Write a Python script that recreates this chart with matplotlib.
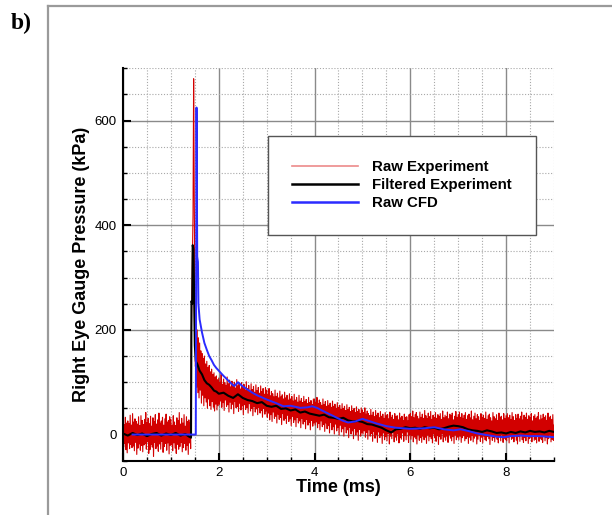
import numpy as np
import matplotlib
matplotlib.use("Agg")
import matplotlib.pyplot as plt
from matplotlib.lines import Line2D
from matplotlib.ticker import MultipleLocator

# ---------------------------------------------------------------
# Raw experiment: one row per millisecond, sampled every 0.0125 ms
# ---------------------------------------------------------------
raw_step = 0.0125
raw_rows = [
    [28, -24, 19, -17, 33, -29, 22, -35, 26, -16, 21, -27, 37, -19, 18, -25, 40, -22, 24, -31,
     30, -15, 25, -38, 20, -26, 34, -18, 17, -30, 36, -21, 27, -33, 19, -20, 29, -17, 42, -28,
     23, -14, 31, -36, 21, -29, 35, -19, 16, -24, 32, -42, 25, -15, 38, -27, 20, -22, 28, -32,
     41, -18, 22, -28, 26, -13, 33, -34, 18, -23, 30, -17, 39, -30, 24, -16, 27, -37, 34, -21],
    [29, -20, 18, -31, 36, -16, 24, -26, 17, -36, 32, -19, 27, -28, 42, -23, 20, -15, 31, -33,
     22, -25, 38, -17, 16, -30, 34, -21, 25, -38, 28, -16, 23, -27,
     180, 260, 340, 420, 680, 460, 300, 130, 210, 90, 200, 80, 185, 70, 175, 85, 160, 60,
     155, 75, 145, 55, 150, 70, 135, 62, 140, 50, 128, 68, 132, 55, 120, 48, 125, 63,
     115, 52, 118, 45, 110, 58, 112, 47, 105, 55],
    [108, 58, 100, 64, 115, 52, 96, 61, 106, 46, 99, 66, 94, 54, 110, 57, 97, 43, 104, 62,
     91, 49, 102, 58, 95, 40, 100, 63, 89, 51, 105, 54, 93, 44, 97, 60, 87, 47, 99, 55,
     91, 38, 96, 57, 85, 48, 101, 52, 88, 41, 94, 59, 83, 45, 97, 50, 86, 36, 92, 54,
     81, 43, 95, 49, 84, 38, 90, 52, 79, 41, 93, 46, 82, 33, 88, 50, 77, 39, 90, 45],
    [85, 33, 77, 41, 88, 28, 74, 38, 82, 25, 78, 43, 72, 31, 85, 35, 73, 22, 79, 39,
     70, 29, 83, 33, 72, 19, 76, 40, 68, 27, 81, 31, 70, 21, 75, 37, 66, 25, 78, 30,
     68, 17, 73, 35, 64, 23, 77, 28, 66, 15, 71, 33, 62, 22, 75, 26, 64, 13, 69, 31,
     61, 20, 73, 25, 63, 11, 67, 29, 59, 18, 71, 23, 61, 9, 65, 27, 57, 16, 68, 22],
    [68, 18, 62, 24, 71, 13, 59, 21, 66, 9, 61, 26, 56, 15, 68, 19, 57, 6, 63, 22,
     54, 11, 65, 17, 56, 3, 60, 23, 52, 9, 64, 15, 54, 1, 58, 20, 50, 7, 61, 13,
     52, -1, 56, 18, 48, 5, 59, 11, 50, -3, 54, 16, 46, 3, 57, 9, 48, -6, 52, 14,
     44, 1, 55, 7, 46, -8, 50, 12, 42, -1, 53, 5, 44, -11, 48, 10, 40, -3, 51, 3],
    [47, 1, 42, 7, 51, -5, 39, 4, 45, -9, 40, 9, 36, -3, 48, 2, 37, -13, 43, 6,
     34, -7, 46, 0, 37, -15, 41, 5, 32, -6, 44, -2, 35, -17, 39, 3, 31, -10, 42, -4,
     36, -12, 38, 2, 30, -18, 43, -3, 33, -8, 37, 4, 29, -14, 40, -5, 34, -11, 36, 1,
     28, -16, 41, -6, 32, -9, 35, 3, 27, -13, 39, -2, 33, -10, 34, 5, 26, -15, 38, -1],
    [40, -9, 34, -2, 45, -14, 32, -5, 38, -8, 42, -18, 35, 0, 30, -11, 43, -6, 33, -15,
     39, -3, 31, -10, 46, -5, 36, -17, 30, -1, 41, -12, 34, -4, 44, -8, 29, -16, 37, 1,
     33, -6, 42, -13, 31, -2, 38, -19, 35, -4, 40, -9, 29, 2, 45, -14, 32, -5, 37, -11,
     34, -3, 43, -15, 30, 0, 39, -7, 36, -12, 41, -4, 28, -17, 35, -1, 44, -10, 33, -5],
    [38, -10, 43, -3, 33, -15, 40, -6, 31, -2, 37, -12, 42, -8, 29, -4, 36, -17, 39, -5,
     32, -11, 45, -2, 28, -14, 35, -7, 41, -3, 30, -18, 38, -9, 34, -1, 27, -13, 40, -5,
     33, -16, 37, -3, 31, -10, 43, -12, 29, -4, 36, -8, 39, -19, 32, -2, 26, -11, 42, -6,
     34, -14, 30, -3, 38, -9, 27, -16, 41, -4, 33, -12, 35, 0, 28, -15, 40, -7, 31, -10],
    [36, -12, 40, -5, 32, -16, 37, -3, 29, -9, 42, -7, 34, -14, 27, -1, 38, -11, 31, -18,
     39, -4, 30, -13, 35, -2, 43, -10, 28, -15, 37, -6, 33, -12, 41, -3, 29, -17, 36, -8,
     32, -5, 40, -14, 26, 0, 35, -11, 38, -9, 31, -16, 34, -2, 42, -13, 28, -7, 37, -10,
     30, -15, 39, -3, 33, -12, 36, -6, 27, -18, 41, -8, 32, -1, 35, -14, 29, -9, 38, -11],
    [18],
]
raw_time = np.concatenate([ms + raw_step * np.arange(len(r)) for ms, r in enumerate(raw_rows)])
raw_pressure = np.concatenate([np.asarray(r, float) for r in raw_rows])

# ---------------------------------------------------------------
# Filtered experiment
# ---------------------------------------------------------------
filt_time = [0.0, 0.1, 0.2, 0.3, 0.4, 0.5, 0.6, 0.7, 0.8, 0.9, 1.0, 1.1, 1.2, 1.3, 1.38,
             1.42, 1.43, 1.445, 1.455, 1.47, 1.48, 1.49, 1.50, 1.52, 1.55, 1.6, 1.65, 1.7,
             1.75, 1.8, 1.85, 1.9, 1.95, 2.0, 2.1, 2.2, 2.3, 2.4, 2.5, 2.6, 2.7, 2.8, 2.9,
             3.0, 3.1, 3.2, 3.3, 3.4, 3.5, 3.6, 3.7, 3.8, 3.9, 4.0, 4.1, 4.2, 4.3, 4.4, 4.5,
             4.6, 4.7, 4.8, 4.9, 5.0, 5.1, 5.2, 5.3, 5.4, 5.5, 5.6, 5.7, 5.8, 5.9, 6.0, 6.1,
             6.2, 6.3, 6.4, 6.5, 6.6, 6.7, 6.8, 6.9, 7.0, 7.1, 7.2, 7.3, 7.4, 7.5, 7.6, 7.7,
             7.8, 7.9, 8.0, 8.1, 8.2, 8.3, 8.4, 8.5, 8.6, 8.7, 8.8, 8.9, 9.0]
filt_pressure = [2, -2, 3, -1, 2, -3, 1, 3, -2, 2, -1, 3, -2, 1, -4,
                 -6, 255, 250, 362, 355, 300, 230, 170, 140, 135, 122, 115, 104,
                 98, 95, 90, 84, 82, 78, 80, 74, 70, 77, 70, 66, 64, 60, 62,
                 55, 53, 55, 49, 50, 46, 48, 42, 44, 40, 38, 36, 38, 33, 32, 30,
                 32, 27, 25, 26, 24, 20, 19, 16, 13, 8, 4, 10, 11, 14, 12, 13,
                 11, 14, 12, 13, 10, 12, 15, 17, 16, 14, 10, 8, 7, 5, 8, 6,
                 3, 4, 2, 5, 3, 6, 4, 7, 5, 6, 4, 7, 5]

# ---------------------------------------------------------------
# Raw CFD
# ---------------------------------------------------------------
cfd_time = [0.2, 1.52, 1.535, 1.55, 1.565, 1.575, 1.6, 1.65, 1.7, 1.75, 1.8, 1.85, 1.9, 1.95,
            2.0, 2.1, 2.2, 2.3, 2.33, 2.4, 2.5, 2.6, 2.7, 2.8, 2.9, 3.0, 3.2, 3.35, 3.5, 3.7,
            3.85, 3.95, 4.05, 4.2, 4.4, 4.6, 4.7, 4.85, 5.0, 5.1, 5.3, 5.5, 5.7, 6.0, 6.3,
            6.5, 6.7, 6.9, 7.05, 7.2, 7.4, 7.6, 7.8, 7.95, 8.1, 8.3, 8.5, 8.7, 9.0]
cfd_pressure = [0, 0, 625, 340, 330, 250, 220, 195, 175, 162, 150, 142, 133, 127,
                122, 112, 103, 94, 93, 100, 92, 86, 80, 75, 71, 67, 60, 54, 55, 51,
                52, 54, 51, 44, 35, 26, 23, 25, 30, 27, 21, 16, 13, 11, 12,
                14, 10, 8, 10, 7, 2, -1, -4, -5, -3, -2, -3, -3, -5]

series_labels = ["Raw Experiment", "Filtered Experiment", "Raw CFD"]
x_ticks = [0, 2, 4, 6, 8]
y_ticks = [0, 200, 400, 600]

W, H = 612, 515
fig = plt.figure(figsize=(W / 100, H / 100), dpi=100)
fig.patch.set_facecolor("white")


def fx(px):
    return px / W


def fy(py):
    return 1 - py / H


# panel frame (top and left edges)
fig.add_artist(Line2D([fx(48), fx(612)], [fy(6), fy(6)], color="#9a9a9a", lw=1.6))
fig.add_artist(Line2D([fx(48), fx(48)], [fy(6), fy(515)], color="#9a9a9a", lw=1.6))
fig.text(fx(11), fy(29), "b)", family="Liberation Serif", fontweight="bold",
         fontsize=17, ha="left", va="baseline")

ax = fig.add_axes([fx(123), fy(460.7), fx(554) - fx(123), fy(68.3) - fy(460.7)])

ax.plot(raw_time, raw_pressure, color="#d20000", lw=0.8, zorder=2)
ax.plot(filt_time, filt_pressure, color="black", lw=1.5, zorder=3)
ax.plot(cfd_time, cfd_pressure, color="#2b2bff", lw=1.4, zorder=4)

ax.set_xlim(0, 9)
ax.set_ylim(-50, 700)
ax.set_xticks(x_ticks)
ax.set_yticks(y_ticks)
ax.xaxis.set_minor_locator(MultipleLocator(0.5))
ax.yaxis.set_minor_locator(MultipleLocator(50))

ax.set_axisbelow(True)
ax.grid(which="major", color="#8a8a8a", lw=1.0, ls="-")
ax.grid(which="minor", color="#a8a8a8", lw=0.8, ls=(0, (1, 1.6)))

for s in ("top", "right"):
    ax.spines[s].set_visible(False)
for s in ("left", "bottom"):
    ax.spines[s].set_linewidth(1.5)
    ax.spines[s].set_color("black")

ax.tick_params(which="major", direction="in", length=6, width=1.5, labelsize=9.5,
               pad=4.5, colors="black")
ax.tick_params(which="minor", direction="in", length=3, width=1.0)
for lab in ax.get_xticklabels() + ax.get_yticklabels():
    lab.set_family("Liberation Sans")

ax.set_xlabel("Time (ms)", family="Liberation Sans", fontweight="bold", fontsize=13,
              labelpad=0)
ax.set_ylabel("Right Eye Gauge Pressure (kPa)", family="Liberation Sans",
              fontweight="bold", fontsize=13, labelpad=3)

handles = [Line2D([], [], color="#ec8a8a", lw=1.2),
           Line2D([], [], color="black", lw=1.8),
           Line2D([], [], color="#2b2bff", lw=1.8)]
leg = ax.legend(handles, series_labels, loc="upper left",
                bbox_to_anchor=(fx(268), fy(136)), bbox_transform=fig.transFigure,
                prop={"family": "Liberation Sans", "weight": "bold", "size": 10.8},
                frameon=True, fancybox=False, edgecolor="#555555", framealpha=1,
                borderpad=1.62, handlelength=4.4, handletextpad=0.93, labelspacing=0.27,
                borderaxespad=0)
leg.get_frame().set_linewidth(1.0)

fig.savefig("out.png", dpi=100)
